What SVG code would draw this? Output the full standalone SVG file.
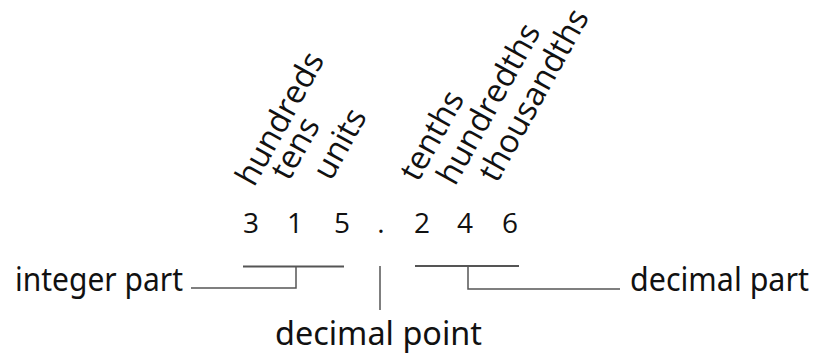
<svg xmlns="http://www.w3.org/2000/svg" width="818" height="360" viewBox="0 0 818 360">
<style>
.place{font-family:"Open Sans","Noto Sans",sans-serif;font-size:32.5px;fill:#111}
.digit{font-family:"Open Sans","Noto Sans",sans-serif;font-size:28px;fill:#111;text-anchor:middle}
.label{font-family:"Noto Sans","Open Sans",sans-serif;font-size:33px;fill:#111}
.bar{stroke:#555;stroke-width:2;fill:none}
.lead{stroke:#555;stroke-width:1.5;fill:none}
</style>
<rect width="818" height="360" fill="#fff"/>
<g id="place-labels">
<text class="place" transform="translate(254,188) rotate(-61)">hundreds</text>
<text class="place" transform="translate(289,182) rotate(-61)">tens</text>
<text class="place" transform="translate(331,182) rotate(-61)">units</text>
<text class="place" transform="translate(418,183) rotate(-61)">tenths</text>
<text class="place" transform="translate(455,187) rotate(-61)">hundredths</text>
<text class="place" transform="translate(497,184) rotate(-61)">thousandths</text>
</g>
<g id="number">
<text class="digit" x="251" y="233">3</text>
<text class="digit" x="295" y="233">1</text>
<text class="digit" x="342" y="233">5</text>
<text class="digit" x="381" y="233">.</text>
<text class="digit" x="422" y="233">2</text>
<text class="digit" x="465" y="233">4</text>
<text class="digit" x="510" y="233">6</text>
</g>
<g id="connectors">
<path class="bar" d="M243,266.5 H344"/>
<path class="lead" d="M296,266.5 V288 H191"/>
<path class="lead" d="M380,266 V310"/>
<path class="bar" d="M415,266 H519"/>
<path class="lead" d="M468,266 V289 H620"/>
</g>
<g id="integer-part"><text class="label" x="15" y="291" textLength="168" lengthAdjust="spacingAndGlyphs">integer part</text></g>
<g id="decimal-part"><text class="label" x="630" y="291" textLength="179" lengthAdjust="spacingAndGlyphs">decimal part</text></g>
<g id="decimal-point"><text class="label" x="275" y="345" textLength="207" lengthAdjust="spacingAndGlyphs">decimal point</text></g>
</svg>
